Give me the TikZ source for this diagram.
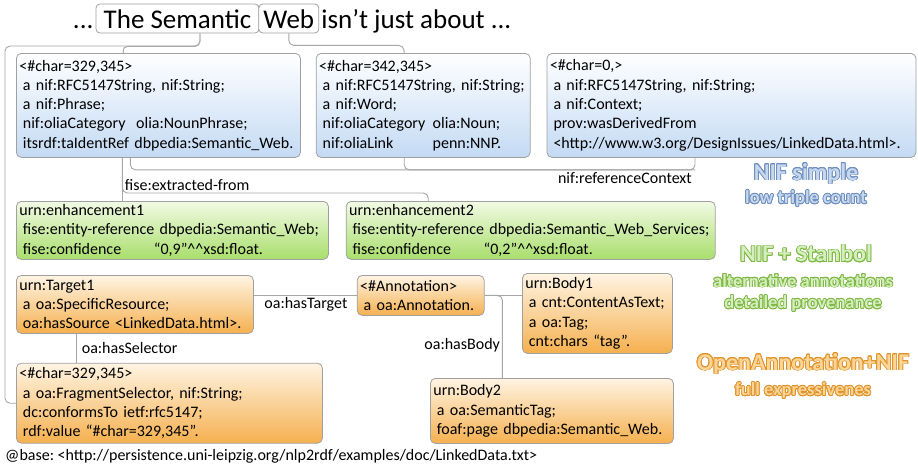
\documentclass[tikz,border=0pt]{standalone}
\usepackage{fontspec}
\setmainfont{Carlito}
\usepackage[copies]{contour}
\usetikzlibrary{positioning}

\definecolor{linegray}{HTML}{A6A6A6}
\definecolor{boxgray}{HTML}{A0A0A0}
\definecolor{nifblue}{HTML}{C3DAF4}
\definecolor{fisetop}{HTML}{F1FAE4}
\definecolor{fisegreen}{HTML}{A9DE6C}
\definecolor{oatop}{HTML}{FFF4E3}
\definecolor{oaorange}{HTML}{F5B04F}
\definecolor{simpleline}{HTML}{6F8FBF}
\definecolor{simplefill}{HTML}{C6D8EE}
\definecolor{stanline}{HTML}{7FB845}
\definecolor{stanfill}{HTML}{D5EEBD}
\definecolor{oaline}{HTML}{E0922A}
\definecolor{oafill}{HTML}{FAD596}

\newcommand{\indt}{\hspace*{3.5pt}}
\newcommand{\outltxt}[3]{\contour{#1}{\textcolor{#2}{#3}}}
\contourlength{0.8pt}
\frenchspacing

\begin{document}
\begin{tikzpicture}[x=1pt,y=1pt,font=\fontsize{16}{19.3}\selectfont,
                    conn/.style={draw=linegray,line width=0.9pt,rounded corners=5pt}]
  \tikzstyle{box}=[draw=boxgray,line width=0.8pt,rounded corners=5pt,anchor=north west,
                   align=left,inner xsep=3pt,inner ysep=0pt]
  \tikzstyle{nif}=[box,top color=white,bottom color=nifblue]
  \tikzstyle{fise}=[box,top color=fisetop,bottom color=fisegreen]
  \tikzstyle{oa}=[box,top color=oatop,bottom color=oaorange]
  \tikzstyle{ttl}=[draw=boxgray,line width=0.8pt,rounded corners=4pt,fill=white,
                   font=\fontsize{27}{30}\selectfont,text height=19pt,text depth=0pt,
                   minimum height=29pt,inner xsep=0pt,inner ysep=5pt]
  \tikzstyle{ttltxt}=[font=\fontsize{27}{30}\selectfont,text height=19pt,text depth=0pt,
                      inner xsep=2pt,inner ysep=5pt]
  \tikzstyle{lbl}=[inner sep=2pt]
  \tikzstyle{head}=[font=\fontsize{24}{26}\selectfont\bfseries]
  \tikzstyle{sub}=[font=\fontsize{18.5}{20}\selectfont\bfseries]

  \fill[white] (0,0) rectangle (918,-467);
  \useasboundingbox (0,0) rectangle (918,-467);

  % title
  \node[ttl,minimum width=163pt] (sem) at (177.5,-18.5) {The Semantic};
  \node[ttl,minimum width=60pt,right=-1pt of sem] (web) {Web};
  \node[ttltxt,left=0pt of sem] (dotsl) {...};
  \node[ttltxt,right=0pt of web] (rest) {isn't just about ...};
  \coordinate (rail) at (5,-46);

  % NIF
  \node[nif,text width=278pt,minimum width=284pt,minimum height=104pt] (box1) at (16,-53)
    {<\#char=329,345>\\
     \indt a nif:RFC5147String, nif:String;\\
     \indt a nif:Phrase;\\
     \indt nif:oliaCategory\ \ olia:NounPhrase;\\
     \indt itsrdf:taIdentRef dbpedia:Semantic\_Web.};
  \node[nif,text width=208pt,minimum width=214pt,minimum height=104pt,
        right=15pt of box1.north east,anchor=north west] (box2)
    {<\#char=342,345>\\
     \indt a nif:RFC5147String, nif:String;\\
     \indt a nif:Word;\\
     \indt \makebox[110pt][l]{nif:oliaCategory}olia:Noun;\\
     \indt \makebox[110pt][l]{nif:oliaLink}penn:NNP.};
  \node[nif,text width=363pt,minimum width=369pt,minimum height=104pt,
        right=16pt of box2.north east,anchor=north west] (box3)
    {<\#char=0,>\\
     \indt a nif:RFC5147String, nif:String;\\
     \indt a nif:Context;\\
     \indt prov:wasDerivedFrom\\
     \indt <http://www.w3.org/DesignIssues/LinkedData.html>.};

  % Stanbol
  \node[fise,text width=306pt,minimum width=312pt,minimum height=58pt] (enh1) at (16,-201)
    {urn:enhancement1\\
     \indt fise:entity-reference dbpedia:Semantic\_Web;\\
     \indt \makebox[131pt][l]{fise:confidence}“0,9”\textasciicircum\textasciicircum xsd:float.};
  \node[fise,text width=363pt,minimum width=369pt,minimum height=58pt,
        right=17pt of enh1.north east,anchor=north west] (enh2)
    {urn:enhancement2\\
     \indt fise:entity-reference dbpedia:Semantic\_Web\_Services;\\
     \indt \makebox[131pt][l]{fise:confidence}“0,2”\textasciicircum\textasciicircum xsd:float.};

  % OpenAnnotation
  \node[oa,text width=231pt,minimum width=237pt,minimum height=58pt] (tgt) at (16,-275)
    {urn:Target1\\
     \indt a oa:SpecificResource;\\
     \indt oa:hasSource <LinkedData.html>.};
  \node[oa,text width=121pt,minimum width=127pt,minimum height=40pt,
        right=103pt of tgt.north east,anchor=north west] (ann)
    {<\#Annotation>\\
     \indt a oa:Annotation.};
  \node[oa,text width=144pt,minimum width=150pt,minimum height=80pt] (body1) at (522,-273)
    {urn:Body1\\
     \indt a cnt:ContentAsText;\\
     \indt a oa:Tag;\\
     \indt cnt:chars “tag”.};
  \node[oa,text width=300pt,minimum width=306pt,minimum height=80pt,
        below=29pt of tgt.south west,anchor=north west] (sel)
    {<\#char=329,345>\\
     \indt a oa:FragmentSelector, nif:String;\\
     \indt dc:conformsTo ietf:rfc5147;\\
     \indt rdf:value “\#char=329,345”.};
  \node[oa,text width=237pt,minimum width=243pt,minimum height=65pt] (body2) at (430,-378)
    {urn:Body2\\
     \indt a oa:SemanticTag;\\
     \indt foaf:page dbpedia:Semantic\_Web.};

  \node[anchor=west,inner sep=0pt] (base) at (5,-456)
    {@base: <http://persistence.uni-leipzig.org/nlp2rdf/examples/doc/LinkedData.txt>};

  % right column
  \node[head] (nifsimple) at (806,-174) {\outltxt{simpleline}{simplefill}{NIF simple}};
  \node[sub]  (lowcount)  at (806,-199) {\outltxt{simpleline}{simplefill}{low triple count}};
  \node[head] (nifstan)   at (806,-254) {\outltxt{stanline}{stanfill}{NIF + Stanbol}};
  \node[sub]  (altann)    at (803,-281) {\outltxt{stanline}{stanfill}{alternative annotations}};
  \node[sub]  (detprov)   at (803,-304) {\outltxt{stanline}{stanfill}{detailed provenance}};
  \node[head] (nifoa)     at (803,-364) {\outltxt{oaline}{oafill}{OpenAnnotation+NIF}};
  \node[sub]  (fullexp)   at (803,-391) {\outltxt{oaline}{oafill}{full expressivenes}};

  % connectors
  \draw[conn] ([xshift=22.5pt]sem.south) |- ++(-77.5pt,-13pt) -- ([xshift=-35pt]box1.north);
  \draw[conn] ([xshift=22.5pt]sem.south) |- (rail) |- (sel.west);
  \draw[conn] (web.south) |- ++(115pt,-12pt) -- ([xshift=-19pt]box2.north);

  \draw[conn] ([xshift=-28pt]box1.south) |- ([xshift=-36.5pt,yshift=-12pt]box3.south)
              coordinate (refc) -- ([xshift=-36.5pt]box3.south);
  \draw[conn] ([xshift=-19pt]box2.south) |- (refc);
  \node[lbl,anchor=north east,xshift=-1pt] (refctx) at (refc) {nif:referenceContext};

  \draw[conn] ([xshift=-36pt]box1.south) -- ([xshift=-50pt]enh1.north);
  \draw[conn] ([xshift=-36pt]box1.south) |- node[lbl,anchor=south west,pos=0.5] (extr) {fise:extracted-from}
              ([xshift=-102.5pt,yshift=8pt]enh2.north) -- ([xshift=-102.5pt]enh2.north);

  \draw[conn] (ann.west) -- node[lbl,pos=0,anchor=north east,xshift=-7pt] (hastgt) {oa:hasTarget}
              (ann.west -| tgt.east);
  \draw[conn] ([xshift=-58.5pt]tgt.south) -- node[lbl,right,xshift=3pt] (hassel) {oa:hasSelector}
              ([xshift=-93pt]sel.north);
  \draw[conn] (ann.east) -- (ann.east -| body1.west);
  \draw[conn] (ann.east) -| node[lbl,left,pos=0.8] (hasbody) {oa:hasBody}
              ([xshift=-49.5pt]body2.north);
\end{tikzpicture}
\end{document}
